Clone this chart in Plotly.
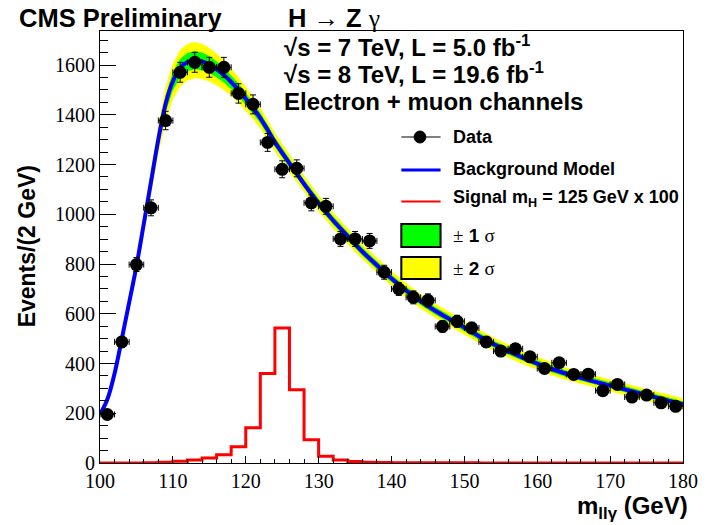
import plotly.graph_objects as go

# ---------------- data ----------------
data_x = [101, 103, 105, 107, 109, 111, 113, 115, 117, 119, 121, 123, 125, 127, 129, 131, 133, 135, 137, 139,
          141, 143, 145, 147, 149, 151, 153, 155, 157, 159, 161, 163, 165, 167, 169, 171, 173, 175, 177, 179]
data_y = [195, 487, 798, 1026, 1377, 1571, 1611, 1591, 1591, 1486, 1442, 1289, 1181, 1185, 1046, 1032, 901, 901, 893, 767,
          700, 666, 654, 549, 570, 543, 487, 450, 459, 427, 380, 403, 356, 357, 291, 316, 265, 273, 242, 228]
data_err = [14, 22, 28, 32, 37, 40, 40, 40, 40, 39, 38, 36, 34, 34, 32, 32, 30, 30, 30, 28,
            26, 26, 26, 23, 24, 23, 22, 21, 21, 21, 19, 20, 19, 19, 17, 18, 16, 17, 16, 15]

bg_x = [100, 101, 102, 103, 104, 105, 106, 107, 108, 109, 110, 111, 112, 113, 114, 115, 116, 117, 118, 119,
        120, 121, 122, 123, 124, 126, 128, 130, 132, 134, 136, 138, 140, 142, 144, 146, 148, 150, 152, 154,
        156, 158, 160, 162, 164, 166, 168, 170, 172, 174, 176, 178, 180]
bg_y = [195, 255, 360, 500, 645, 792, 960, 1130, 1300, 1444, 1535, 1588, 1612, 1620, 1615, 1602, 1583, 1560, 1532, 1500,
        1465, 1427, 1387, 1340, 1290, 1205, 1122, 1044, 975, 912, 850, 795, 742, 694, 650, 612, 578, 545, 510, 478,
        450, 424, 400, 378, 359, 342, 326, 311, 296, 281, 266, 251, 236]
sig2 = [10, 13, 17, 22, 30, 38, 47, 56, 63, 68, 72, 74, 74, 73, 71, 68, 64, 60, 56, 52,
        48, 45, 42, 40, 38, 36, 34, 33, 32, 32, 31, 31, 30, 30, 29, 29, 28, 28, 27, 27,
        27, 26, 26, 26, 25, 25, 25, 25, 24, 24, 24, 24, 24]
sig1 = [5, 7, 9, 11, 15, 19, 23, 28, 31, 34, 36, 37, 37, 37, 36, 34, 32, 30, 28, 26,
        24, 23, 21, 20, 19, 18, 17, 17, 16, 16, 16, 16, 15, 15, 15, 15, 14, 14, 14, 14,
        14, 13, 13, 13, 13, 13, 13, 13, 12, 12, 12, 12, 12]

sig_edges = list(range(100, 182, 2))
sig_vals = [0.5, 0.5, 0.5, 1.5, 3, 7, 12, 20, 33, 65, 142, 360, 543, 295, 93, 27, 12, 6, 3, 2,
            1.5, 1, 1, 0.8, 0.7, 0.6, 0.5, 0.5, 0.5, 0.4, 0.4, 0.4, 0.3, 0.3, 0.3, 0.3, 0.3, 0.3, 0.3, 0.3]

x_ticks = [100, 110, 120, 130, 140, 150, 160, 170, 180]
y_ticks = [0, 200, 400, 600, 800, 1000, 1200, 1400, 1600]

# ---------------- geometry ----------------
W, H = 710, 525
ML, MR, MT, MB = 100, 16, 31, 62
PW, PH = W - ML - MR, H - MT - MB

def px(x):
    return (x - ML) / PW

def py(y):
    return (H - MB - y) / PH

SANS = "Liberation Sans"
SERIF = "Liberation Serif"

fig = go.Figure()

# 2 sigma band
up2 = [b + s for b, s in zip(bg_y, sig2)]
lo2 = [b - s for b, s in zip(bg_y, sig2)]
fig.add_trace(go.Scatter(x=bg_x + bg_x[::-1], y=up2 + lo2[::-1], fill="toself",
                         fillcolor="#ffff00", line=dict(width=0, color="#ffff00"),
                         mode="lines", hoverinfo="skip", showlegend=False))
up1 = [b + s for b, s in zip(bg_y, sig1)]
lo1 = [b - s for b, s in zip(bg_y, sig1)]
fig.add_trace(go.Scatter(x=bg_x + bg_x[::-1], y=up1 + lo1[::-1], fill="toself",
                         fillcolor="#00ff00", line=dict(width=0, color="#00ff00"),
                         mode="lines", hoverinfo="skip", showlegend=False))
# background model
fig.add_trace(go.Scatter(x=bg_x, y=bg_y, mode="lines", line=dict(color="#0000ff", width=4, shape="spline"),
                         showlegend=False))
# signal histogram
fig.add_trace(go.Scatter(x=sig_edges, y=sig_vals + [sig_vals[-1]], mode="lines",
                         line=dict(color="#ff0000", width=3, shape="hv"), showlegend=False))
# data
fig.add_trace(go.Scatter(x=data_x, y=data_y, mode="markers",
                         marker=dict(color="black", size=13),
                         error_y=dict(type="data", array=data_err, color="black", thickness=1, width=3),
                         error_x=dict(type="constant", value=1, color="black", thickness=1, width=3),
                         showlegend=False))

fig.update_layout(
    width=W, height=H,
    margin=dict(l=ML, r=MR, t=MT, b=MB),
    paper_bgcolor="white", plot_bgcolor="white",
    showlegend=False,
    xaxis=dict(range=[100, 180], tickvals=x_ticks, ticktext=[str(v) for v in x_ticks],
               ticks="inside", ticklen=7, tickcolor="black", tickwidth=1,
               minor=dict(ticks="inside", ticklen=4, dtick=2, tick0=100, tickcolor="black"),
               showgrid=False, zeroline=False, showline=True, linecolor="black", linewidth=1, mirror=True,
               tickfont=dict(family=SERIF, size=20, color="black")),
    yaxis=dict(range=[0, 1737], tickvals=y_ticks, ticktext=[str(v) for v in y_ticks],
               ticks="inside", ticklen=16, tickcolor="black", tickwidth=1,
               minor=dict(ticks="inside", ticklen=8, dtick=50, tick0=0, tickcolor="black"),
               showgrid=False, zeroline=False, showline=True, linecolor="black", linewidth=1, mirror=True,
               tickfont=dict(family=SERIF, size=20, color="black")),
)

anns = []
def ann(x, y, text, size, xanchor="left", angle=0, family=SANS):
    anns.append(dict(x=px(x), y=py(y), xref="paper", yref="paper", text=text, showarrow=False,
                     xanchor=xanchor, yanchor="middle", textangle=angle,
                     font=dict(family=family, size=size, color="black")))

g = "<span style='font-family:Liberation Serif;font-weight:normal'>%s</span>"
ann(15, 18, "<b>CMS Preliminary</b>", 25.5)
ann(289, 18, "<b>H " + g % "→" + " Z " + g % "γ" + "</b>", 25.5)
ann(285, 46, "<b>√s = 7 TeV, L = 5.0 fb<sup>-1</sup></b>", 24)
ann(285, 73, "<b>√s = 8 TeV, L = 19.6 fb<sup>-1</sup></b>", 24)
ann(285, 101, "<b>Electron + muon channels</b>", 24)

ann(458, 137, "<b>Data</b>", 18)
ann(458, 169, "<b>Background Model</b>", 18)
ann(458, 199, "<b>Signal m<sub>H</sub> = 125 GeV x 100</b>", 18)
ann(458, 235, g % "±" + " <b>1</b> " + g % "σ", 19)
ann(458, 268, g % "±" + " <b>2</b> " + g % "σ", 19)

ann(584, 507, "<b>m<sub>llγ</sub> (GeV)</b>", 24)
ann(26, 246, "<b>Events/(2 GeV)</b>", 23, xanchor="center", angle=-90)

fig.update_layout(annotations=anns)

shapes = []
def pshape(**kw):
    d = dict(xref="paper", yref="paper")
    d.update(kw)
    shapes.append(d)

pshape(type="line", x0=px(407), x1=px(447), y0=py(137), y1=py(137), line=dict(color="black", width=1))
pshape(type="circle", x0=px(420), x1=px(432), y0=py(131), y1=py(143), fillcolor="black", line=dict(color="black", width=1))
pshape(type="line", x0=px(407), x1=px(447), y0=py(170), y1=py(170), line=dict(color="#0000ff", width=3))
pshape(type="line", x0=px(407), x1=px(447), y0=py(201.5), y1=py(201.5), line=dict(color="#ff0000", width=2))
pshape(type="rect", x0=px(407), x1=px(447), y0=py(224), y1=py(247), fillcolor="#00ff00", line=dict(color="black", width=2))
pshape(type="rect", x0=px(407), x1=px(447), y0=py(257), y1=py(279), fillcolor="#ffff00", line=dict(color="black", width=2))
fig.update_layout(shapes=shapes)

fig.write_html("out.html")
